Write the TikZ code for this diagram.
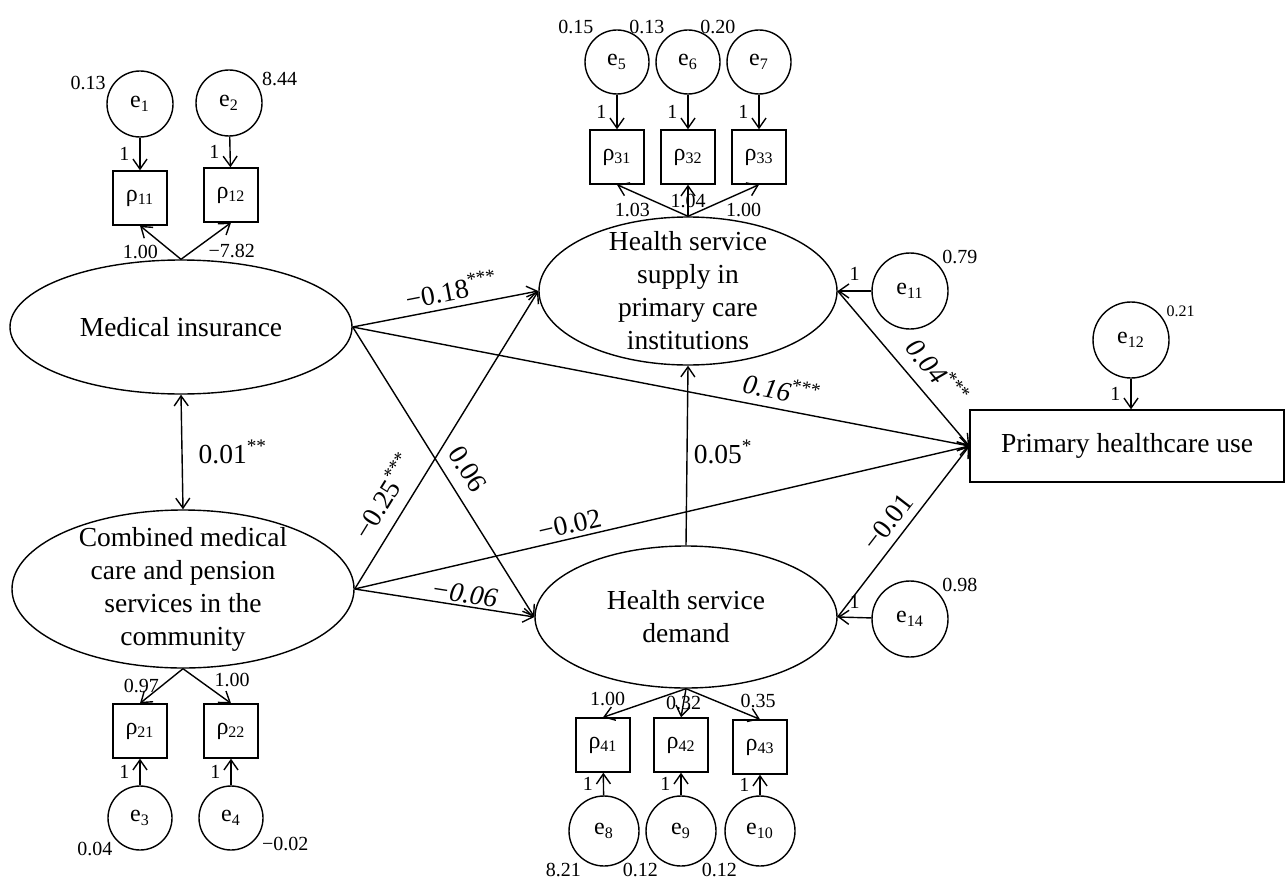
\documentclass[tikz,border=0pt]{standalone}
\usepackage{fontspec}
\setmainfont{Liberation Serif}
\usetikzlibrary{shapes,arrows.meta,positioning}

\begin{document}
\begin{tikzpicture}[
    x=0.5pt, y=-0.5pt,
    line width=0.7pt,
    latent/.style={draw, ellipse, inner sep=0pt},
    obs/.style={draw, rectangle, minimum size=27pt, inner sep=0pt, font=\fontsize{12}{12}\selectfont},
    err/.style={draw, circle, minimum size=33pt, inner sep=0pt, font=\fontsize{12}{12}\selectfont},
    big/.style={font=\fontsize{13.75}{16.5}\selectfont, align=center},
    arrow/.style={-{Straight Barb[length=5pt,width=7pt]}},
    both/.style={{Straight Barb[length=5pt,width=7pt]}-{Straight Barb[length=5pt,width=7pt]}},
    coef/.style={font=\fontsize{13.75}{16.5}\selectfont, inner sep=1pt},
    num/.style={font=\fontsize{10}{12}\selectfont, inner sep=1pt}
]
\useasboundingbox (0,0) rectangle (1288,882);

% Latent variables
\node[latent, minimum width=171pt, minimum height=67pt, label={[big]center:Medical insurance}] (mi) at (181,327) {};
\node[latent, minimum width=171pt, minimum height=79pt, label={[big]center:{Combined medical\\care and pension\\services in the\\community}}] (cmp) at (183,589) {};
\node[latent, minimum width=149pt, minimum height=74pt, label={[big]center:{Health service\\supply in\\primary care\\institutions}}] (sup) at (688,291) {};
\node[latent, minimum width=151pt, minimum height=71pt, label={[big]center:{Health service\\demand}}] (dem) at (686,617) {};
\node[draw, big, minimum width=157pt, minimum height=36pt] (use) at (1127,446) {Primary healthcare use};

% Indicators
\node[obs] (p11) at (140,198) {ρ\textsubscript{11}};
\node[obs] (p12) at (231,195) {ρ\textsubscript{12}};
\node[obs] (p21) at (140,731) {ρ\textsubscript{21}};
\node[obs] (p22) at (231,731) {ρ\textsubscript{22}};
\node[obs] (p31) at (617,157) {ρ\textsubscript{31}};
\node[obs] (p32) at (688,157) {ρ\textsubscript{32}};
\node[obs] (p33) at (759,157) {ρ\textsubscript{33}};
\node[obs] (p41) at (603,745) {ρ\textsubscript{41}};
\node[obs] (p42) at (681,745) {ρ\textsubscript{42}};
\node[obs] (p43) at (760,747) {ρ\textsubscript{43}};

% Error terms
\node[err, label={[num]160:0.13}] (e1) at (140,104) {e\textsubscript{1}};
\node[err, label={[num]25:8.44}] (e2) at (229,103) {e\textsubscript{2}};
\node[err, minimum size=32pt, label={[num]220:0.04}] (e3) at (140,818) {e\textsubscript{3}};
\node[err, minimum size=32pt, label={[num]330:−0.02}] (e4) at (231,818) {e\textsubscript{4}};
\node[err, minimum size=32pt, label={[num]130:0.15}] (e5) at (617,62) {e\textsubscript{5}};
\node[err, minimum size=32pt, label={[num]130:0.13}] (e6) at (688,62) {e\textsubscript{6}};
\node[err, minimum size=32pt, label={[num]130:0.20}] (e7) at (759,62) {e\textsubscript{7}};
\node[err, minimum size=35pt, label={[num]235:8.21}] (e8) at (604,831) {e\textsubscript{8}};
\node[err, minimum size=35pt, label={[num]235:0.12}] (e9) at (681,831) {e\textsubscript{9}};
\node[err, minimum size=35pt, label={[num]235:0.12}] (e10) at (760,831) {e\textsubscript{10}};
\node[err, minimum size=38pt, label={[num]40:0.79}] (e11) at (910,291) {e\textsubscript{11}};
\node[err, minimum size=38pt, label={[num, font=\fontsize{8}{10}\selectfont]32:0.21}] (e12) at (1131,340) {e\textsubscript{12}};
\node[err, minimum size=38pt, label={[num]40:0.98}] (e14) at (910,619) {e\textsubscript{14}};

% Measurement paths
\draw[arrow] (e1) -- (p11) node[num, midway, left=4pt] {1};
\draw[arrow] (e2) -- (p12) node[num, midway, left=4pt] {1};
\draw[arrow] (e3) -- (p21) node[num, midway, left=4pt] {1};
\draw[arrow] (e4) -- (p22) node[num, midway, left=4pt] {1};
\draw[arrow] (e5) -- (p31) node[num, midway, left=4pt] {1};
\draw[arrow] (e6) -- (p32) node[num, midway, left=4pt] {1};
\draw[arrow] (e7) -- (p33) node[num, midway, left=4pt] {1};
\draw[arrow] (e8) -- (p41) node[num, midway, left=4pt] {1};
\draw[arrow] (e9) -- (p42) node[num, midway, left=4pt] {1};
\draw[arrow] (e10) -- (p43) node[num, midway, left=4pt] {1};
\draw[arrow] (e11) -- (sup.east) node[num, midway, above=4pt] {1};
\draw[arrow] (e14) -- (dem.east) node[num, midway, above=3pt] {1};
\draw[arrow] (e12) -- (e12.south |- use.north) node[num, midway, left=4pt] {1};

\draw[arrow] (mi.north) -- (p11.south) node[num, midway, below left] {1.00};
\draw[arrow] (mi.north) -- (p12.south) node[num, midway, below right] {−7.82};
\draw[arrow] (cmp.south) -- (p21.north) node[num, midway, left] {0.97};
\draw[arrow] (cmp.south) -- (p22.north) node[num, pos=0.6, above right] {1.00};
\draw[arrow] (sup.north) -- (p31.south) node[num, midway, below left] {1.03};
\draw[arrow] (sup.north) -- (p32.south) node[num, midway] {1.04};
\draw[arrow] (sup.north) -- (p33.south) node[num, midway, below right] {1.00};
\draw[arrow] (dem.south) -- (p41.north) node[num, pos=0.7, above left] {1.00};
\draw[arrow] (dem.south) -- (p42.north) node[num, midway] {0.32};
\draw[arrow] (dem.south) -- (p43.north) node[num, pos=0.7, above right] {0.35};

% Structural paths
\draw[both] (mi.south) -- (cmp.north) node[coef, midway, right=7pt] {0.01\textsuperscript{**}};
\draw[arrow] (mi.east) -- (sup.west) node[coef, pos=0.55, above=2pt, sloped] {−0.18\textsuperscript{***}};
\draw[arrow] (mi.east) -- (use.west) node[coef, pos=0.69, above=3pt, sloped] {\textit{0.16}\textsuperscript{***}};
\draw[arrow] (mi.east) -- (dem.west) node[coef, pos=0.53, above=5pt, sloped] {0.06};
\draw[arrow] (cmp.east) -- (sup.west) node[coef, pos=0.27, above=5pt, sloped] {−0.25\textsuperscript{***}};
\draw[arrow] (cmp.east) -- (use.west) node[coef, pos=0.355, above=1pt, sloped] {−0.02};
\draw[arrow] (cmp.east) -- (dem.west) node[coef, pos=0.6, above=0pt, sloped] {\textit{−0.06}};
\draw[arrow] (dem.north) -- (sup.south) node[coef, pos=0.52, right=2pt] {0.05\textsuperscript{*}};
\draw[arrow] (sup.east) -- (use.west) node[coef, pos=0.62, above=5pt, sloped] {\textit{0.04}\textsuperscript{***}};
\draw[arrow] (dem.east) -- (use.west) node[coef, pos=0.49, above=3pt, sloped] {−0.01};

\end{tikzpicture}
\end{document}
